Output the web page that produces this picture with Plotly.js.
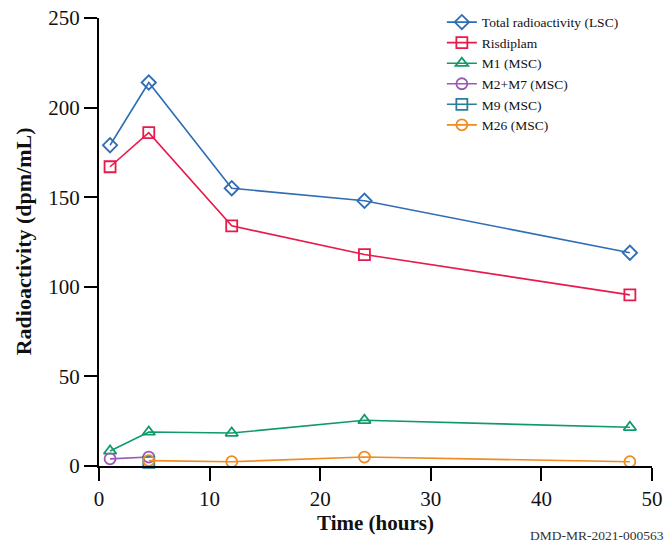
<!DOCTYPE html>
<html><head><meta charset="utf-8">
<script src="https://cdn.plot.ly/plotly-3.0.1.min.js"></script>
<style>html,body{margin:0;padding:0;background:#fff}#c{width:668px;height:548px}</style>
</head><body><div id="c"></div>
<script>
const seriesNames = ["Total radioactivity (LSC)","Risdiplam","M1 (MSC)","M2+M7 (MSC)","M9 (MSC)","M26 (MSC)"];
const totalX = [1, 4.5, 12, 24, 48];
const totalY = [179, 214, 155, 148, 119];
const risdiplamX = [1, 4.5, 12, 24, 48];
const risdiplamY = [167, 186, 134, 118, 95.5];
const m1X = [1, 4.5, 12, 24, 48];
const m1Y = [8.4, 19, 18.4, 25.5, 21.6];
const m2m7X = [1, 4.5];
const m2m7Y = [4, 5];
const m9X = [4.5];
const m9Y = [2];
const m26X = [4.5, 12, 24, 48];
const m26Y = [3, 2.4, 5, 2.4];
const xTicks = [0, 10, 20, 30, 40, 50];
const yTicks = [0, 50, 100, 150, 200, 250];
const colors = ["#2f6db5","#e8194b","#109a68","#9b59b6","#2b7d9c","#ef8b1f"];
const symbols = ["diamond-open","square-open","triangle-up-open","circle-open","square-open","circle-open"];
const xs = [totalX, risdiplamX, m1X, m2m7X, m9X, m26X];
const ys = [totalY, risdiplamY, m1Y, m2m7Y, m9Y, m26Y];
const traces = seriesNames.map((n,i)=>({
  x: xs[i], y: ys[i], name: n, type: "scatter", mode: "lines+markers",
  line: {color: colors[i], width: 1.6},
  marker: {symbol: symbols[i], size: 11, color: colors[i], line: {color: colors[i], width: 1.8}},
  cliponaxis: false
}));
const fam = "Liberation Serif, Times New Roman, serif";
Plotly.newPlot("c", traces, {
  width: 668, height: 548,
  margin: {l: 99, r: 16, t: 18, b: 82, autoexpand: false},
  paper_bgcolor: "#fff", plot_bgcolor: "#fff",
  font: {family: fam, color: "#111"},
  showlegend: true,
  legend: {x: 0.62, y: 1.025, xanchor: "left", yanchor: "top", font: {family: fam, size: 13.5, color: "#111"}, tracegroupgap: 0, itemwidth: 30, bgcolor: "rgba(0,0,0,0)"},
  xaxis: {range: [0, 50], tickvals: xTicks, showgrid: false, zeroline: false, showline: true, linecolor: "#000", linewidth: 2,
    ticks: "outside", ticklen: 13, tickwidth: 2, tickcolor: "#000", tickfont: {family: fam, size: 21, color: "#111"}, automargin: false,
    title: {text: "<b>Time (hours)</b>", font: {family: fam, size: 21, color: "#111"}, standoff: 4}},
  yaxis: {range: [0, 250], tickvals: yTicks, showgrid: false, zeroline: false, showline: true, linecolor: "#000", linewidth: 2,
    ticks: "outside", ticklen: 13, tickwidth: 2, tickcolor: "#000", tickfont: {family: fam, size: 21, color: "#111"}, automargin: false},
  annotations: [
    {text: "<b>Radioactivity (dpm/mL)</b>", xref: "paper", yref: "paper", x: -0.137, y: 0.502, xanchor: "center", yanchor: "middle", textangle: -90, showarrow: false,
      font: {family: fam, size: 22, color: "#111"}},
    {text: "DMD-MR-2021-000563", xref: "paper", yref: "paper", x: 1.025, y: -0.135, xanchor: "right", yanchor: "top", showarrow: false,
    font: {family: fam, size: 13.5, color: "#333"}}]
}, {displayModeBar: false, staticPlot: true});
</script></body></html>
